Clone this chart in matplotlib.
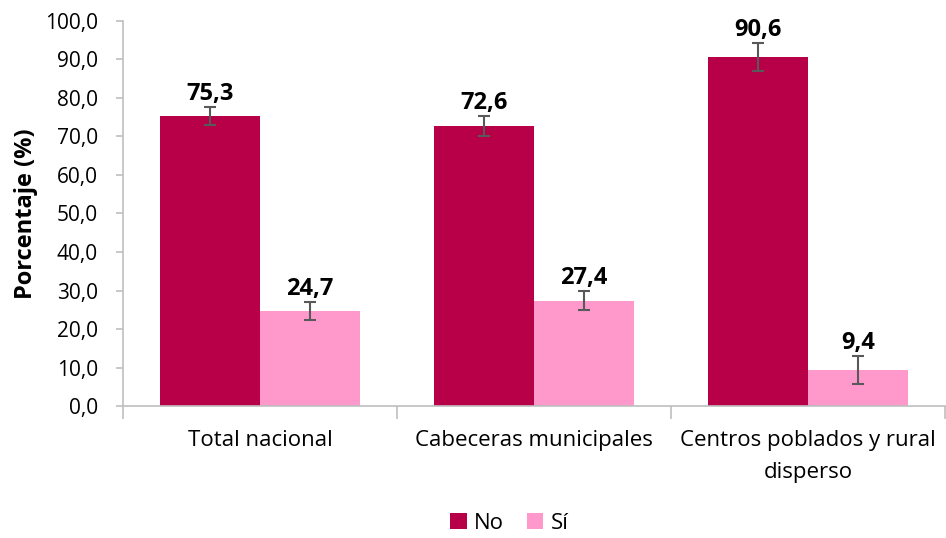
import numpy as np
import matplotlib
matplotlib.use("Agg")
import matplotlib.pyplot as plt

categories = ["Total nacional", "Cabeceras municipales", "Centros poblados y rural\ndisperso"]
series_names = ["No", "Sí"]
no_values = [75.3, 72.6, 90.6]
si_values = [24.7, 27.4, 9.4]
no_err = [2.3, 2.6, 3.6]
si_err = [2.3, 2.5, 3.6]

plt.rcParams["font.family"] = ["Open Sans", "DejaVu Sans"]

color_no = "#B80048"
color_si = "#FF99CC"
axis_gray = "#BFBFBF"

fig = plt.figure(figsize=(9.46, 5.38), dpi=100)
ax = fig.add_axes([0.130, 0.245, 0.869, 0.7165])

x = np.arange(len(categories))
width = 0.365
err_style = dict(ecolor="#595959", elinewidth=1.5, capsize=4, capthick=1.5)

ax.bar(x - width / 2, no_values, width, color=color_no, label=series_names[0],
       yerr=no_err, error_kw=err_style)
ax.bar(x + width / 2, si_values, width, color=color_si, label=series_names[1],
       yerr=si_err, error_kw=err_style)

for xs, vals, errs in [(x - width / 2, no_values, no_err), (x + width / 2, si_values, si_err)]:
    for xi, v, e in zip(xs, vals, errs):
        ax.annotate(f"{v:.1f}".replace(".", ","), (xi, v + e), xytext=(0, 1),
                    textcoords="offset points", ha="center", va="bottom",
                    fontsize=17, fontweight="bold")

ax.set_xlim(-0.5, len(categories) - 0.5)
ax.set_ylim(0, 100)
ax.set_yticks(np.arange(0, 101, 10))
ax.set_yticklabels([f"{t:.1f}".replace(".", ",") for t in np.arange(0, 101, 10)], fontsize=15)
ax.set_ylabel("Porcentaje (%)", fontsize=17, fontweight="bold", labelpad=5)

# category labels between boundary ticks
ax.set_xticks(np.arange(-0.5, len(categories)))
ax.set_xticklabels([])
ax.set_xticks(x, minor=True)
ax.set_xticklabels(categories, minor=True, fontsize=16, linespacing=1.7)
ax.tick_params(axis="x", which="major", length=9, color=axis_gray, width=1.2)
ax.tick_params(axis="x", which="minor", length=0, pad=17)
ax.tick_params(axis="y", length=5, color=axis_gray, width=1.2, pad=13)

for side in ["top", "right"]:
    ax.spines[side].set_visible(False)
for side in ["left", "bottom"]:
    ax.spines[side].set_color(axis_gray)
    ax.spines[side].set_linewidth(1.2)

ax.legend(loc="lower center", bbox_to_anchor=(0.5 - 0.13 / 2 + 0.035, -0.365), ncol=2, frameon=False,
          fontsize=16, handlelength=0.75, handleheight=0.75, handletextpad=0.35,
          columnspacing=1.0, borderaxespad=0.2)

fig.savefig("out.png", dpi=100)
